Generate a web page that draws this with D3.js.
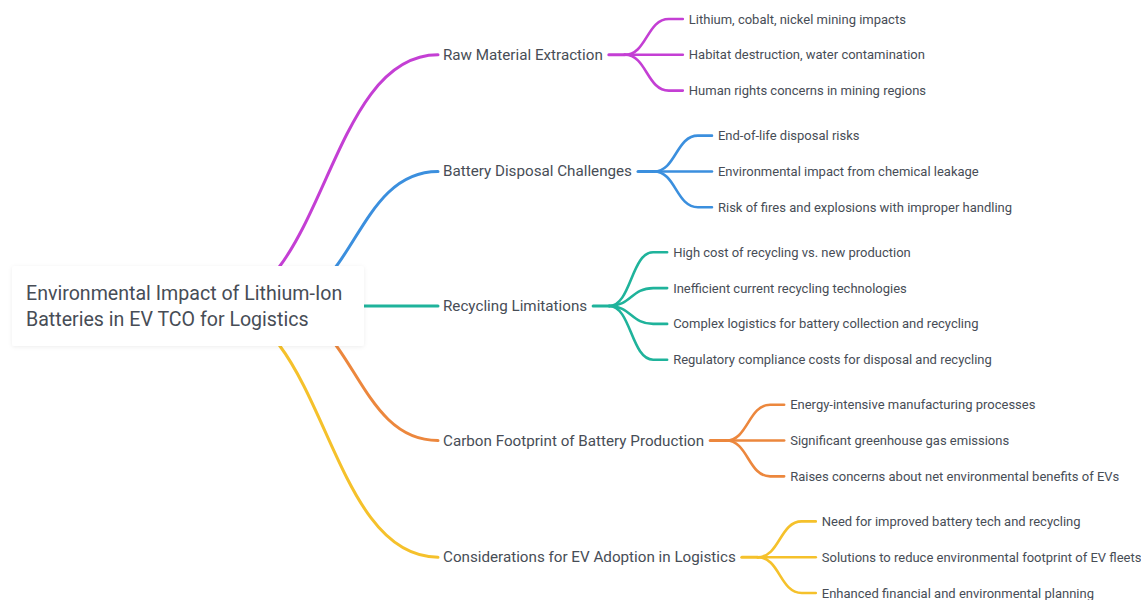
<!DOCTYPE html>
<html><head><meta charset="utf-8">
<script src="https://cdn.jsdelivr.net/npm/d3@7/dist/d3.min.js"></script>
<style>
html,body{margin:0;padding:0;background:#fff;}
svg{display:block;}
text{font-family:Roboto,"DejaVu Sans",sans-serif;fill:#474d56;}
</style></head>
<body>
<script>
const rootLines = ["Environmental Impact of Lithium-Ion", "Batteries in EV TCO for Logistics"];
const branches = [
  "Raw Material Extraction",
  "Battery Disposal Challenges",
  "Recycling Limitations",
  "Carbon Footprint of Battery Production",
  "Considerations for EV Adoption in Logistics"
];
const leaves = [
  ["Lithium, cobalt, nickel mining impacts", "Habitat destruction, water contamination", "Human rights concerns in mining regions"],
  ["End-of-life disposal risks", "Environmental impact from chemical leakage", "Risk of fires and explosions with improper handling"],
  ["High cost of recycling vs. new production", "Inefficient current recycling technologies", "Complex logistics for battery collection and recycling", "Regulatory compliance costs for disposal and recycling"],
  ["Energy-intensive manufacturing processes", "Significant greenhouse gas emissions", "Raises concerns about net environmental benefits of EVs"],
  ["Need for improved battery tech and recycling", "Solutions to reduce environmental footprint of EV fleets", "Enhanced financial and environmental planning"]
];
const colors = ["#c43fd4", "#3b8fde", "#1fb39b", "#ec873d", "#f5c12b"];

const W = 1141, H = 600;
const svg = d3.select("body").append("svg").attr("width", W).attr("height", H);

const leafSlots = [];
leaves.forEach((ls, g) => ls.forEach((l, j) => leafSlots.push({g, j, text: l})));
const slotPos = leafSlots.map((d, i) => i * 35.8 + d.g * 9.25);
const y = d3.scaleLinear().domain([0, d3.max(slotPos)]).range([19, 593]);
leafSlots.forEach((d, i) => d.y = y(slotPos[i]));
const branchY = leaves.map((ls, g) => d3.mean(leafSlots.filter(d => d.g === g), d => d.y));
const rootY = branchY[2];

const branchX = 443;
const linkG = svg.append("g").attr("fill", "none").attr("stroke-linecap", "round");
const textG = svg.append("g");

function sCurve(x0, y0, x1, y1) {
  const xm = (x0 + x1) / 2;
  return `M${x0},${y0}C${xm},${y0} ${xm},${y1} ${x1},${y1}`;
}

branches.forEach((b, i) => {
  const y1 = branchY[i];
  const dy = Math.abs(y1 - rootY);
  const x1 = branchX - 5;
  const x0 = x1 - (100 + 0.5 * dy);
  linkG.append("path")
    .attr("d", dy < 1 ? `M300,${rootY}L${x1},${y1}` : sCurve(x0, rootY, x1, y1))
    .attr("stroke", colors[i]).attr("stroke-width", 3);
});

const defs = svg.append("defs");
const f = defs.append("filter").attr("id", "sh").attr("x", "-10%").attr("y", "-30%").attr("width", "120%").attr("height", "160%");
f.append("feDropShadow").attr("dx", 0).attr("dy", 1).attr("stdDeviation", 2).attr("flood-color", "#000").attr("flood-opacity", 0.07);
svg.append("rect").attr("x", 12).attr("y", rootY - 40).attr("width", 352).attr("height", 80)
  .attr("rx", 3).attr("fill", "#fff").attr("filter", "url(#sh)");
svg.append("g").selectAll("text").data(rootLines).join("text")
  .attr("x", 26).attr("y", (d, i) => rootY - 13 + i * 26)
  .attr("dominant-baseline", "central")
  .style("font-size", "19.6px")
  .text(d => d);

branches.forEach((b, i) => {
  const by = branchY[i];
  const t = textG.append("text").attr("x", branchX).attr("y", by)
    .attr("dominant-baseline", "central").style("font-size", "15.2px").text(b);
  const tw = t.node().getComputedTextLength();
  const te = branchX + tw;
  const jx = te + 22;
  const leafX = te + 86;
  linkG.append("path").attr("d", `M${te + 6},${by}L${jx},${by}`)
    .attr("stroke", colors[i]).attr("stroke-width", 3);
  leafSlots.filter(d => d.g === i).forEach(d => {
    const cx = jx + 44;
    linkG.append("path")
      .attr("d", sCurve(jx, by, cx, d.y) + `L${leafX - 6},${d.y}`)
      .attr("stroke", colors[i]).attr("stroke-width", 2.6);
    textG.append("text").attr("x", leafX).attr("y", d.y)
      .attr("dominant-baseline", "central").style("font-size", "13px").text(d.text);
  });
});
</script>
</body></html>
